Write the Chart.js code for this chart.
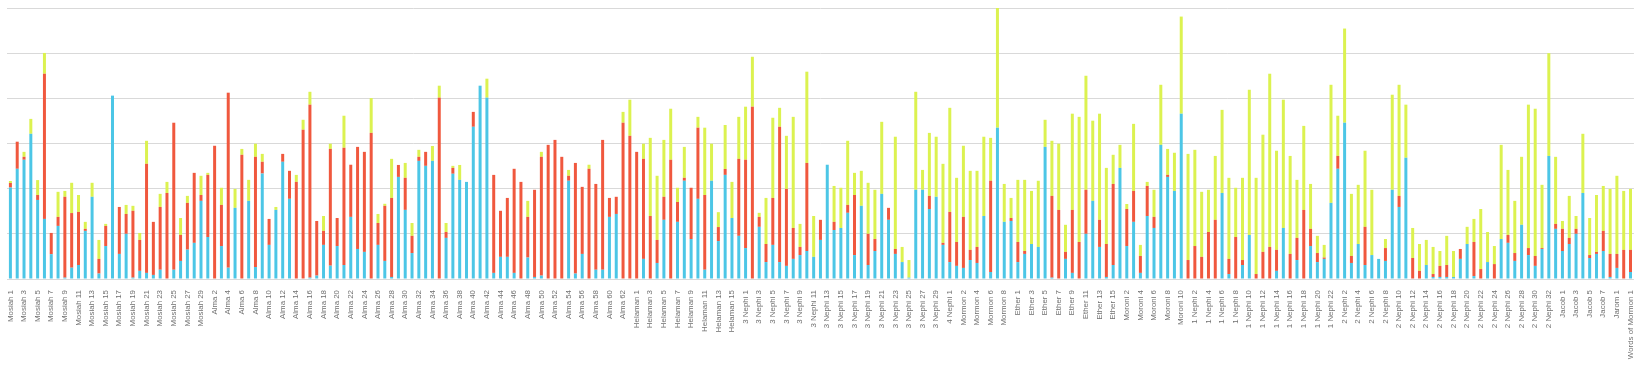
<!DOCTYPE html>
<html>
<head>
<meta charset="utf-8">
<script src="https://cdn.jsdelivr.net/npm/chart.js@4/dist/chart.umd.min.js"></script>
<style>
  html, body { margin: 0; padding: 0; background: #fff; }
  #wrap { width: 1643px; height: 366px; }
</style>
</head>
<body>
<div id="wrap"><canvas id="grafico"></canvas></div>
<script>
// books in the order of the chart, with their chapter counts
const books = [
    ['Mosiah', 29], ['Alma', 63], ['Helaman', 16], ['3 Nephi', 30], ['4 Nephi', 1],
    ['Mormon', 9], ['Ether', 15], ['Moroni', 10], ['1 Nephi', 22], ['2 Nephi', 33],
    ['Jacob', 7], ['Enos', 1], ['Jarom', 1], ['Omni', 1], ['Words of Mormon', 1]
];

const categories = [];
books.forEach(([name, n]) => {
    for (let c = 1; c <= n; c++) categories.push(name + ' ' + c);
});

const blueVals = [
    // Mosiah
    20.25, 24.4, 26.4, 32.15, 17.5, 13.3, 5.5, 11.75, 0.3, 2.5, 3.1, 10.65, 18.2, 1.2, 7.3, 40.6, 5.55, 10.0, 0.3, 1.8, 1.35, 0.9, 2.05, 0, 2.05, 4.0, 6.5, 8.0, 17.3,
    // Alma
    9.3, 0, 7.3, 2.5, 15.75, 0, 17.3, 2.65, 23.35, 7.55, 15.3, 25.95, 17.75, 0, 0, 0.3, 0.75, 7.55, 2.95, 7.3,
    3.1, 13.75, 6.65, 6.0, 0, 7.55, 4.0, 0.45, 22.6, 15.3, 5.75, 26.15, 25.05, 26.15, 0, 9.1, 23.3, 21.95, 21.5, 33.7,
    42.8, 40.15, 1.35, 4.9, 4.9, 1.35, 0, 4.75, 0.45, 0.75, 0, 0, 0, 21.75, 1.2, 5.55, 0, 2.05, 2.05, 13.75,
    14.4, 0, 0,
    // Helaman
    0, 4.45, 0, 3.55, 13.1, 0, 12.65, 21.75, 8.85, 17.75, 2.05, 21.75, 8.4, 23.05, 13.5, 9.55,
    // 3 Nephi
    6.85, 0, 11.55, 3.75, 7.55, 3.75, 2.9, 4.45, 5.3, 6.2, 4.9, 8.65, 25.3, 10.85, 11.3, 14.65, 5.3, 16.2, 3.1, 6.2,
    18.85, 13.1, 5.55, 3.75, 0.3, 19.75, 19.75, 15.5, 18.2, 7.55,
    // 4 Nephi
    3.75,
    // Mormon
    2.9, 2.45, 4.2, 3.55, 13.95, 1.55, 33.5, 12.65, 12.85,
    // Ether
    3.75, 5.55, 7.75, 7.1, 29.25, 0.3, 0, 4.45, 1.35, 0, 10.0, 17.3, 7.1, 0.45, 3.1,
    // Moroni
    24.6, 7.3, 12.65, 1.35, 13.95, 11.3, 29.7, 22.6, 19.5, 36.6,
    // 1 Nephi
    0, 0, 0, 0, 0, 19.05, 1.1, 0, 3.1, 9.75, 0, 0, 0, 1.8, 11.3, 0, 4.2, 0, 7.3, 3.75, 4.45, 16.85,
    // 2 Nephi
    24.4, 34.6, 3.55, 7.75, 3.1, 5.3, 4.45, 4.0, 19.75, 15.95, 26.85, 0, 0, 3.1, 0.45, 0.45, 0.45, 0.45, 4.45, 7.75,
    0.65, 0, 3.75, 0, 8.85, 8.0, 4.0, 12.0, 5.3, 2.9, 6.65, 27.25, 11.1,
    // Jacob, Enos, Jarom, Omni, Words of Mormon
    6.2, 7.75, 10.0, 19.05, 4.65, 5.55, 6.2, 0.45, 2.45, 0, 1.55
];

const redVals = [
    // Mosiah
    1.0, 6.0, 0.65, 0, 1.1, 32.15, 4.7, 2.0, 17.9, 12.1, 11.75, 0.45, 0, 3.25, 4.45, 0, 10.4, 4.4, 14.8, 6.85, 24.15, 11.75, 13.9, 19.05, 32.55, 5.75, 10.35, 15.5, 1.3,
    // Alma
    13.75, 29.5, 9.1, 38.75, 0, 27.5, 0, 24.4, 2.6, 5.75, 0, 1.75, 6.2, 21.5, 33.05, 38.3, 12.1, 3.1, 25.85, 6.2,
    25.95, 11.55, 22.6, 22.15, 32.35, 4.85, 12.2, 17.5, 2.65, 7.1, 3.8, 0.9, 3.1, 0, 40.15, 1.3, 1.3, 0, 0, 3.3,
    0, 0, 21.7, 10.2, 13.05, 23.05, 21.5, 9.0, 19.3, 26.3, 29.7, 30.8, 27.05, 1.1, 24.5, 14.85, 24.4, 19.0, 28.75, 4.2,
    3.8, 34.6, 31.7,
    // Helaman
    28.15, 22.15, 13.95, 5.1, 5.1, 26.4, 4.4, 0.65, 11.35, 15.75, 16.55, 0, 3.1, 1.3, 0, 17.05,
    // 3 Nephi
    19.55, 38.15, 2.2, 4.0, 10.4, 29.95, 17.05, 6.85, 1.8, 19.5, 0, 4.45, 0, 1.8, 0, 1.75, 13.3, 0, 6.9, 2.65,
    0, 2.65, 1.1, 0, 0, 0, 0, 2.9, 0, 0.45,
    // 4 Nephi
    11.1,
    // Mormon
    5.3, 11.3, 2.25, 3.55, 0, 20.2, 0, 0, 0.65,
    // Ether
    4.45, 0.65, 0, 0, 0, 18.1, 15.3, 1.55, 13.95, 8.2, 9.75, 0, 6.0, 7.3, 17.95,
    // Moroni
    0, 8.2, 6.85, 3.75, 6.65, 2.45, 0, 0.45, 0, 0,
    // 1 Nephi
    4.2, 7.3, 4.9, 10.4, 13.1, 0, 3.35, 9.3, 1.1, 0, 1.1, 6.0, 7.1, 4.65, 0, 5.55, 4.9, 15.3, 3.8, 2.0, 0.3, 0,
    // 2 Nephi
    2.85, 0, 1.55, 0, 8.45, 0, 0, 2.85, 0, 2.45, 0, 4.65, 1.8, 0, 0.65, 2.45, 2.65, 0, 2.2, 0,
    7.55, 2.2, 0, 3.3, 0, 1.75, 1.75, 0, 1.55, 2.2, 0.2, 0, 1.1,
    // Jacob, Enos, Jarom, Omni, Words of Mormon
    4.9, 1.35, 1.1, 0, 0.65, 0.45, 4.45, 5.1, 3.1, 6.45, 4.9
];

const yellowVals = [
    // Mosiah
    0.45, 0, 1.1, 3.3, 3.3, 4.6, 0, 5.55, 1.3, 6.7, 3.75, 1.55, 3.1, 4.2, 0.45, 0, 0, 2.0, 1.1, 1.55, 5.1, 0, 2.9, 2.45, 0, 3.75, 1.55, 0, 4.25,
    // Alma
    0.45, 0, 3.8, 0, 4.2, 1.3, 4.65, 2.9, 1.75, 0, 0.65, 0, 0, 1.55, 2.2, 2.85, 0, 3.3, 1.15, 0,
    7.1, 0, 0, 0, 7.7, 2.0, 0.45, 8.65, 0, 3.3, 2.85, 1.55, 0, 3.3, 2.65, 2.0, 0.45, 3.3, 0, 0,
    0, 4.2, 0, 0, 0, 0, 0, 3.55, 0, 1.1, 0, 0, 0, 1.3, 0, 0, 0.9, 0, 0, 0,
    0, 2.4, 8.0,
    // Helaman
    0, 3.35, 17.3, 14.2, 12.6, 11.3, 3.15, 6.85, 0, 2.4, 14.9, 8.2, 3.3, 9.75, 8.0, 9.3,
    // 3 Nephi
    11.75, 11.05, 0.9, 10.2, 17.75, 4.2, 11.75, 24.6, 5.1, 20.2, 9.05, 0, 0, 7.95, 8.9, 14.2, 4.9, 7.75, 11.3, 10.9,
    15.95, 0, 24.85, 3.35, 3.9, 21.7, 4.4, 13.95, 13.3, 17.5,
    // 4 Nephi
    23.05,
    // Mormon
    14.2, 15.75, 17.5, 16.85, 17.55, 9.5, 26.5, 8.4, 4.45,
    // Ether
    13.75, 15.75, 11.75, 14.65, 6.0, 12.2, 14.65, 6.0, 21.3, 27.7, 25.25, 17.75, 23.5, 16.85, 6.45,
    // Moroni
    5.1, 1.1, 14.85, 2.45, 0.9, 6.0, 13.3, 5.75, 8.45, 21.5,
    // 1 Nephi
    23.5, 21.3, 14.4, 9.35, 14.15, 18.4, 17.95, 10.9, 18.2, 32.15, 21.3, 25.95, 38.35, 21.95, 28.4, 21.7, 12.85, 18.6, 9.95, 3.8, 2.8, 26.15,
    // 2 Nephi
    8.9, 20.85, 13.75, 13.1, 16.85, 14.45, 0, 2.0, 21.05, 24.6, 11.75, 6.65, 5.95, 5.55, 6.0, 3.3, 6.45, 5.75, 0, 3.8,
    5.1, 13.3, 6.65, 4.0, 20.85, 14.4, 11.55, 15.05, 31.75, 32.6, 14.0, 22.75, 14.85,
    // Jacob, Enos, Jarom, Omni, Words of Mormon
    1.75, 9.3, 2.85, 13.1, 8.2, 12.6, 9.95, 14.4, 17.3, 13.05, 13.5
];

const yTicks = [0, 10, 20, 30, 40, 50, 60];

const ctx = document.getElementById('grafico');

new Chart(ctx, {
    type: 'bar',
    data: {
        labels: categories,
        datasets: [
            { label: 'Serie 1', data: blueVals, backgroundColor: '#4cc6e6' },
            { label: 'Serie 2', data: redVals, backgroundColor: '#f0583e' },
            { label: 'Serie 3', data: yellowVals, backgroundColor: '#dcf250' }
        ]
    },
    options: {
        responsive: true,
        maintainAspectRatio: false,
        animation: false,
        layout: {
            padding: { top: 8, left: 7, right: 6, bottom: 2 }
        },
        datasets: {
            bar: {
                categoryPercentage: 0.8,
                barPercentage: 0.55,
                borderWidth: 0
            }
        },
        plugins: {
            legend: { display: false },
            tooltip: { enabled: false }
        },
        scales: {
            x: {
                stacked: true,
                grid: { display: false },
                border: { display: false },
                afterFit: axis => { axis.height = 85; },
                ticks: {
                    autoSkip: false,
                    minRotation: 90,
                    maxRotation: 90,
                    padding: 3,
                    color: '#707070',
                    font: { family: 'Liberation Sans', size: 7.9 },
                    callback: (value, i) => i % 2 === 0 ? categories[i] : ''
                }
            },
            y: {
                stacked: true,
                min: yTicks[0],
                max: yTicks[yTicks.length - 1],
                afterBuildTicks: axis => {
                    axis.ticks = yTicks.map(v => ({ value: v }));
                },
                grid: { color: '#d9d9d9', drawTicks: false },
                border: { display: false },
                ticks: { display: false }
            }
        }
    }
});
</script>
</body>
</html>
